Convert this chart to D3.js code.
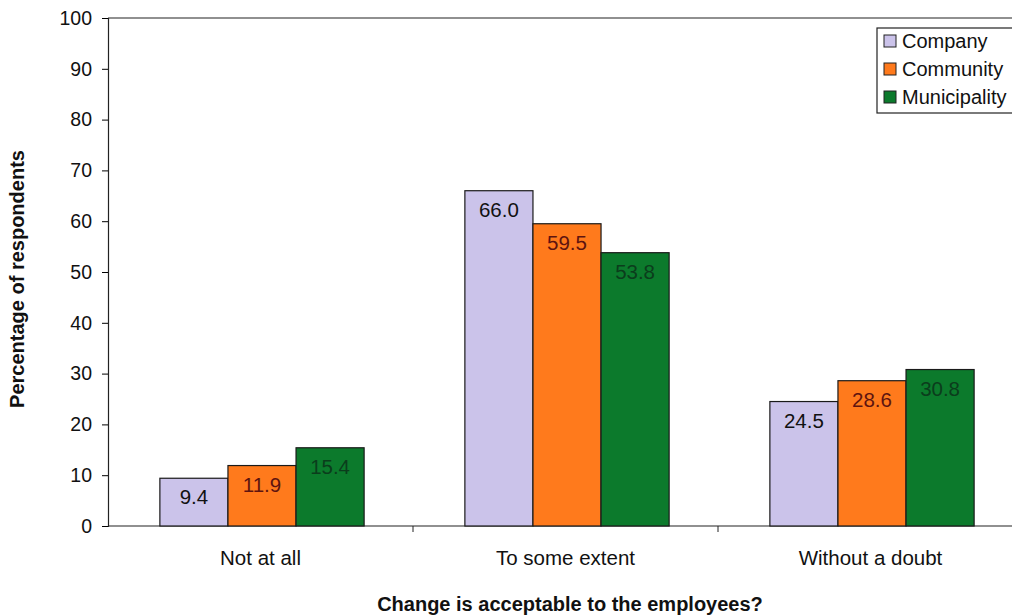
<!DOCTYPE html>
<html>
<head>
<meta charset="utf-8">
<script src="https://cdn.jsdelivr.net/npm/d3@7"></script>
<style>
body { margin: 0; background: #fff; }
svg { display: block; font-family: Arial, "Liberation Sans", sans-serif; }
</style>
</head>
<body>
<svg id="svg" width="1012" height="616"></svg>
<script>
var categories = ["Not at all", "To some extent", "Without a doubt"]
var seriesNames = ["Company", "Community", "Municipality"]
var company = [9.4, 66.0, 24.5]
var community = [11.9, 59.5, 28.6]
var municipality = [15.4, 53.8, 30.8]
var yTicks = [0, 10, 20, 30, 40, 50, 60, 70, 80, 90, 100]

var fills = ["#cbc3ea", "#ff7a1c", "#0c7a2c"]
var labelColors = ["#111", "#5e1410", "#0b3d1c"]

var svg = d3.select("#svg")
var plotLeft = 108, plotRight = 1023, plotTop = 18, plotBottom = 526

var x = d3.scaleBand().domain(categories).range([plotLeft, plotRight])
var xs = d3.scaleBand().domain(seriesNames).range([0, x.bandwidth()]).paddingInner(0).paddingOuter(0.74)
var y = d3.scaleLinear().domain([0, 100]).range([plotBottom, plotTop])

// frame top line
svg.append("line")
	.attr("x1", plotLeft).attr("x2", 1012)
	.attr("y1", plotTop).attr("y2", plotTop)
	.style("stroke", "#222").style("stroke-width", 1.2)

var yAxis = svg.append("g")
	.attr("transform", "translate(" + plotLeft + ",0)")
	.call(d3.axisLeft(y).tickValues(yTicks).tickSize(6).tickPadding(10))
yAxis.select(".domain").style("stroke", "#222").style("stroke-width", 1.2)
yAxis.selectAll("text").style("font-size", "19.5px").style("fill", "#111")

var xAxis = svg.append("g")
	.attr("transform", "translate(0," + plotBottom + ")")
	.call(d3.axisBottom(x).tickSize(0).tickPadding(24))
xAxis.select(".domain").remove()
xAxis.selectAll("text").style("font-size", "20.5px").style("fill", "#111")
svg.append("line")
	.attr("x1", plotLeft).attr("x2", 1012)
	.attr("y1", plotBottom).attr("y2", plotBottom)
	.style("stroke", "#222").style("stroke-width", 1.2)
// category separators
svg.selectAll(".sep")
	.data(categories.slice(1))
	.enter().append("line")
	.attr("x1", function (d) { return x(d) })
	.attr("x2", function (d) { return x(d) })
	.attr("y1", plotBottom).attr("y2", plotBottom + 6)
	.style("stroke", "#222")

var series = [company, community, municipality]
series.forEach(function (vals, si) {
	var g = svg.append("g")
	g.selectAll("rect")
		.data(vals)
		.enter().append("rect")
		.attr("x", function (d, i) { return x(categories[i]) + xs(seriesNames[si]) + 1.5 })
		.attr("y", function (d) { return y(d) })
		.attr("width", xs.bandwidth())
		.attr("height", function (d) { return plotBottom - y(d) })
		.style("fill", fills[si])
		.style("stroke", "#1a1a1a")
		.style("stroke-width", 1.2)
	g.selectAll("text")
		.data(vals)
		.enter().append("text")
		.attr("x", function (d, i) { return x(categories[i]) + xs(seriesNames[si]) + 1.5 + xs.bandwidth() / 2 })
		.attr("y", function (d) { return y(d) + 26 })
		.attr("text-anchor", "middle")
		.style("font-size", "20.5px")
		.style("fill", labelColors[si])
		.text(function (d) { return d.toFixed(1) })
})

// legend
var lg = svg.append("g").attr("transform", "translate(877,28)")
lg.append("rect")
	.attr("width", 140).attr("height", 85)
	.style("fill", "#fff").style("stroke", "#222").style("stroke-width", 1.2)
seriesNames.forEach(function (name, i) {
	lg.append("rect")
		.attr("x", 7).attr("y", 7 + i * 28)
		.attr("width", 12).attr("height", 12)
		.style("fill", fills[i]).style("stroke", "#222")
	lg.append("text")
		.attr("x", 25).attr("y", 20 + i * 28)
		.style("font-size", "20px").style("fill", "#111")
		.text(name)
})

// axis titles
svg.append("text")
	.attr("transform", "translate(24,279) rotate(-90)")
	.attr("text-anchor", "middle")
	.style("font-size", "20px").style("font-weight", "bold").style("fill", "#111")
	.text("Percentage of respondents")
svg.append("text")
	.attr("x", 570).attr("y", 611)
	.attr("text-anchor", "middle")
	.style("font-size", "20px").style("font-weight", "bold").style("fill", "#111")
	.text("Change is acceptable to the employees?")
</script>
</body>
</html>
